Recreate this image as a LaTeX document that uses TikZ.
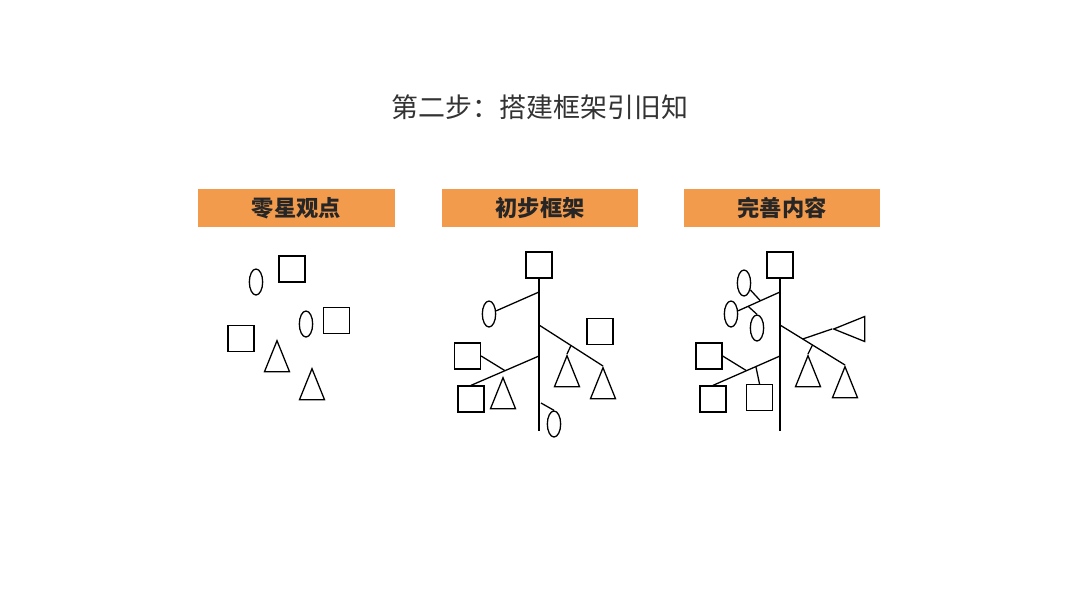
\documentclass[tikz,border=0pt]{standalone}
\usepackage{fontspec}
\newfontfamily\cjk{Noto Sans CJK SC}
\usetikzlibrary{shapes.geometric,calc}
\definecolor{boxorange}{HTML}{F39B4C}

\begin{document}
\begin{tikzpicture}[
  x=0.03cm, y=-0.03cm,
  line width=1.1pt,
  sq/.style={draw, rectangle, minimum size=0.78cm, inner sep=0pt},
  ov/.style={draw, ellipse, minimum width=0.4cm, minimum height=0.78cm, inner sep=0pt},
  tri/.style={draw, isosceles triangle, isosceles triangle stretches,
              shape border rotate=90, minimum width=0.75cm, minimum height=0.93cm,
              inner sep=0pt, anchor=apex},
  head/.style={fill=boxorange, minimum width=5.9cm, minimum height=1.14cm,
               font=\cjk\bfseries\fontsize{19}{19}\selectfont, text=black!85},
  stem/.style={line width=1.5pt},
]
  \useasboundingbox (0,0) rectangle (1080,608);

  \node[font=\cjk\fontsize{23}{23}\selectfont, text=black!80] (title) at (540,107) {第二步：搭建框架引旧知};

  % Headings
  \node[head] (h1) at (296.5,208) {零星观点};
  \node[head] (h2) at (540,208) {初步框架};
  \node[head] (h3) at (782,208) {完善内容};

  % Scattered ideas
  \node[ov] (o11) at (256,282) {};
  \node[sq] (s11) at (292,269) {};
  \node[ov] (o12) at (306,324) {};
  \node[sq] (s12) at (336.5,320.5) {};
  \node[sq] (s13) at (241,338.5) {};
  \node[tri] (t11) at (277,339) {};
  \node[tri] (t12) at (312,367) {};

  % First frame
  \node[sq] (s20) at (539,265) {};
  \coordinate (e2) at (539,431);
  \draw[stem] (s20.south) -- (e2);
  \coordinate (p2a) at (539,292);
  \coordinate (p2b) at (539,325);
  \coordinate (p2c) at (539,356);
  \coordinate (p2d) at (541,403);
  \node[ov] (o21) at (489,314) {};
  \node[ov] (o22) at (554,424) {};
  \node[sq] (s21) at (467.5,356) {};
  \node[sq] (s22) at (600,331.5) {};
  \node[sq] (s23) at (471,399) {};
  \node[tri] (t21) at (567,354) {};
  \node[tri] (t22) at (603,366) {};
  \node[tri] (t23) at (503,376) {};
  \draw (p2a) -- (o21);
  \draw (p2b) -- (t22.apex);
  \draw ($(p2b)!0.5!(t22.apex)$) -- (t21.apex);
  \draw (p2c) -- (s23.north);
  \draw ($(p2c)!0.5!(s23.north)$) -- (s21.east);
  \draw (p2d) -- (o22.north);

  % Completed content
  \node[sq] (s30) at (780,265) {};
  \coordinate (e3) at (780,431);
  \draw[stem] (s30.south) -- (e3);
  \coordinate (p3a) at (780,292);
  \coordinate (p3b) at (780,325);
  \coordinate (p3c) at (780,356);
  \node[ov] (o31) at (731,314) {};
  \node[ov] (o32) at (744,283) {};
  \node[ov] (o33) at (757,328) {};
  \node[sq] (s32) at (709,356) {};
  \node[sq] (s33) at (759.5,397.5) {};
  \node[sq] (s34) at (713,399) {};
  \node[tri] (t31) at (808,354) {};
  \node[tri] (t32) at (845,365) {};
  \node[tri, shape border rotate=180] (t33) at (832,329) {};
  \draw (p3a) -- (o31);
  \draw ($(p3a)!0.4!(o31)$) -- (o32);
  \draw ($(p3a)!0.65!(o31)$) -- (o33.north);
  \draw (p3b) -- (t32.apex);
  \draw ($(p3b)!0.35!(t32.apex)$) -- (t33.apex);
  \draw ($(p3b)!0.5!(t32.apex)$) -- (t31.apex);
  \draw (p3c) -- (s34.north);
  \draw ($(p3c)!0.5!(s34.north)$) -- (s32.east);
  \draw ($(p3c)!0.36!(s34.north)$) -- (s33.north);
\end{tikzpicture}
\end{document}
